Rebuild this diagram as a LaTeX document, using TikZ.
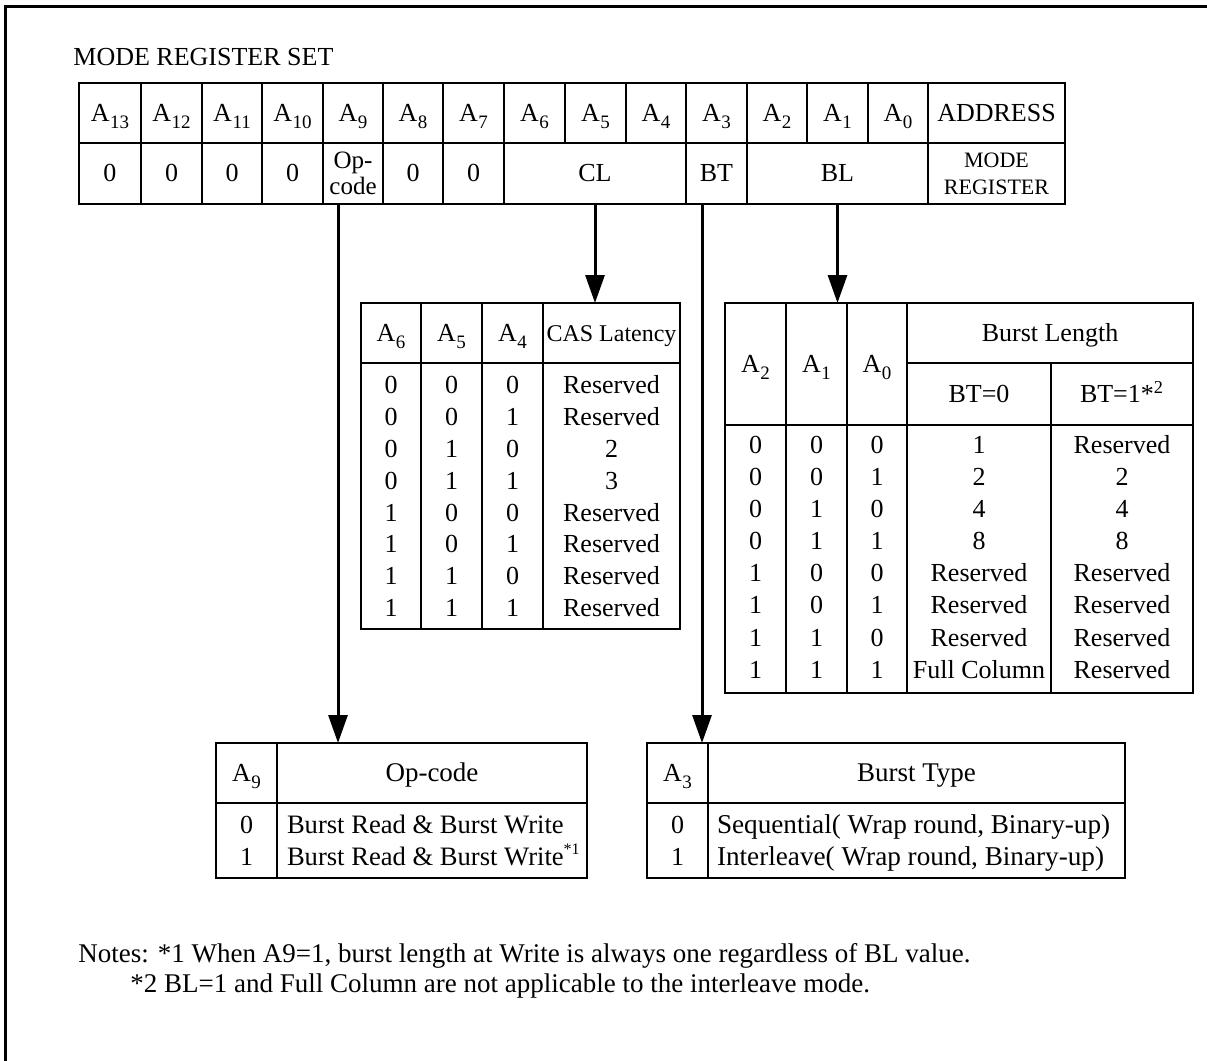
\documentclass[tikz,border=0pt]{standalone}
\usepackage{fontspec}
\setmainfont{Liberation Serif}
\usetikzlibrary{arrows.meta,calc}

% font size helper: size / baselineskip in pt
\newcommand\fs[2]{\fontsize{#1}{#2}\selectfont}
% address bit A_n with a lowered index
\newcommand\Aa[1]{A\kern0.3pt\raisebox{-0.27em}{\fontsize{9.5}{10}\selectfont #1}}
% small raised footnote mark
\newcommand\fmark[1]{\raisebox{0.42em}{\fontsize{8}{9}\selectfont #1}}

\tikzset{
  cell/.style={draw, line width=1pt, inner sep=0pt, outer sep=0pt, align=center,
               font=\fs{13}{15}, text height=9pt, text depth=0.6pt},
  lbl/.style={inner sep=0pt, outer sep=0pt, font=\fs{13}{15}, text height=9pt, text depth=0.6pt},
  lbll/.style={lbl, anchor=west, font=\fs{13.6}{15}},
  arr/.style={line width=1.5pt, -{Triangle[length=14pt,width=9.5pt]}},
  frame/.style={line width=1.5pt},
  twoline/.style={text height=, text depth=},
  note/.style={anchor=base west, inner sep=0pt, font=\fs{13.5}{15}},
}

% rectangular cell from corner (x1,y1) to corner (x2,y2), coordinates in pixels
\newcommand{\rc}[7][]{%
  \pgfmathsetmacro\cx{(#3+#5)/2}\pgfmathsetmacro\cy{(#4+#6)/2}%
  \pgfmathsetmacro\cw{(#5-#3)*0.5}\pgfmathsetmacro\ch{(#6-#4)*0.5}%
  \node[cell, minimum width=\cw pt, minimum height=\ch pt, #1] (#2) at (\cx,\cy) {#7};}

\begin{document}
\begin{tikzpicture}[x=0.5pt, y=-0.5pt]
\useasboundingbox (0,0) rectangle (1207,1061);

% outer frame
\draw[frame] (5,1061) -- (5,6) -- (1207,6);

% title
\node[anchor=base west, inner sep=0pt, font=\fs{13}{15}] (title) at (73,65) {MODE REGISTER SET};

% ---- mode register: address row ----
\foreach \xa/\xb/\n in {79/141/13, 141/202/12, 202/262/11, 262/323/10, 323/383/9,
                        383/443/8, 443/504/7, 504/565/6, 565/626/5, 626/686/4,
                        686/747/3, 747/807/2, 807/868/1, 868/928/0}
  {\rc{mrA\n}{\xa}{83}{\xb}{143}{\Aa{\n}}}
\rc{mrAddr}{928}{83}{1065}{143}{ADDRESS}

% ---- mode register: field row ----
\foreach \xa/\xb/\n in {79/141/13, 141/202/12, 202/262/11, 262/323/10, 383/443/8, 443/504/7}
  {\rc{mrZ\n}{\xa}{143}{\xb}{204}{0}}
\rc[twoline, font=\fs{12.5}{13}]{mrOp}{323}{143}{383}{204}{Op-\\code}
\rc{mrCL}{504}{143}{686}{204}{CL}
\rc{mrBT}{686}{143}{747}{204}{BT}
\rc{mrBL}{747}{143}{928}{204}{BL}
\rc[twoline, font=\fs{11}{13.5}]{mrMode}{928}{143}{1065}{204}{MODE\\REGISTER}

% ---- CAS latency table ----
\rc{casA6}{361}{303}{421}{363}{\Aa{6}}
\rc{casA5}{421}{303}{482}{363}{\Aa{5}}
\rc{casA4}{482}{303}{543}{363}{\Aa{4}}
\rc[font=\fs{12}{14}]{casH}{543}{303}{680}{363}{CAS Latency}
\rc{casB1}{361}{363}{421}{629}{}
\rc{casB2}{421}{363}{482}{629}{}
\rc{casB3}{482}{363}{543}{629}{}
\rc{casB4}{543}{363}{680}{629}{}
\foreach \a/\b/\c/\v [count=\i] in {0/0/0/Reserved, 0/0/1/Reserved, 0/1/0/2, 0/1/1/3,
                                    1/0/0/Reserved, 1/0/1/Reserved, 1/1/0/Reserved, 1/1/1/Reserved}{
  \pgfmathsetmacro\ry{385+31.9*(\i-1)}
  \node[lbl] (casr\i a) at (391,\ry) {\a};
  \node[lbl] (casr\i b) at (451.5,\ry) {\b};
  \node[lbl] (casr\i c) at (512.5,\ry) {\c};
  \node[lbl] (casr\i v) at (611.5,\ry) {\v};
}

% ---- burst length table ----
\rc{blA2}{725}{303}{786}{425}{\Aa{2}}
\rc{blA1}{786}{303}{847}{425}{\Aa{1}}
\rc{blA0}{847}{303}{907}{425}{\Aa{0}}
\rc{blH}{907}{303}{1193}{363}{Burst Length}
\rc{blT0}{907}{363}{1051}{425}{BT=0}
\rc{blT1}{1051}{363}{1193}{425}{BT=1*\textsuperscript{2}}
\rc{blB1}{725}{425}{786}{693}{}
\rc{blB2}{786}{425}{847}{693}{}
\rc{blB3}{847}{425}{907}{693}{}
\rc{blB4}{907}{425}{1051}{693}{}
\rc{blB5}{1051}{425}{1193}{693}{}
\foreach \a/\b/\c/\u/\w [count=\i] in {0/0/0/1/Reserved, 0/0/1/2/2, 0/1/0/4/4, 0/1/1/8/8,
                                       1/0/0/Reserved/Reserved, 1/0/1/Reserved/Reserved,
                                       1/1/0/Reserved/Reserved, 1/1/1/Full Column/Reserved}{
  \pgfmathsetmacro\ry{445+32.1*(\i-1)}
  \node[lbl] (blr\i a) at (755.5,\ry) {\a};
  \node[lbl] (blr\i b) at (816.5,\ry) {\b};
  \node[lbl] (blr\i c) at (877,\ry) {\c};
  \node[lbl] (blr\i u) at (979,\ry) {\u};
  \node[lbl] (blr\i w) at (1122,\ry) {\w};
}

% ---- op-code table ----
\rc{opA}{216}{743}{277}{803}{\Aa{9}}
\rc[font=\fs{13.5}{15}]{opH}{277}{743}{587}{803}{Op-code}
\rc{opB1}{216}{803}{277}{878}{}
\rc{opB2}{277}{803}{587}{878}{}
\node[lbl] (opr1a) at (246.5,825) {0};
\node[lbl] (opr2a) at (246.5,857) {1};
\node[lbll, font=\fs{13.3}{15}] (opr1v) at (287,825) {Burst Read \& Burst Write};
\node[lbll, font=\fs{13.3}{15}] (opr2v) at (287,857) {Burst Read \& Burst Write\fmark{*1}};

% ---- burst type table ----
\rc{btA}{647}{743}{708}{803}{\Aa{3}}
\rc[font=\fs{13.5}{15}]{btH}{708}{743}{1125}{803}{Burst Type}
\rc{btB1}{647}{803}{708}{878}{}
\rc{btB2}{708}{803}{1125}{878}{}
\node[lbl] (btr1a) at (677.5,825) {0};
\node[lbl] (btr2a) at (677.5,857) {1};
\node[lbll] (btr1v) at (717,825) {Sequential( Wrap round, Binary-up)};
\node[lbll] (btr2v) at (717,857) {Interleave( Wrap round, Binary-up)};

% ---- field arrows ----
\coordinate (opStart) at ([xshift=-7.5pt]mrOp.south);
\coordinate (btStart) at ([xshift=-7.25pt]mrBT.south);
\draw[arr] (opStart) -- (opStart |- opH.north);
\draw[arr] (mrCL.south) -- (mrCL.south |- casH.north);
\draw[arr] (btStart) -- (btStart |- btA.north);
\draw[arr] (mrBL.south) -- (mrBL.south |- blA1.north);

% ---- notes ----
\node[note] (note1) at (78,962)
  {Notes: *1 When A9=1, burst length at Write is always one regardless of BL value.};
\node[note] (note2) at (130,992)
  {*2 BL=1 and Full Column are not applicable to the interleave mode.};
\end{tikzpicture}
\end{document}
